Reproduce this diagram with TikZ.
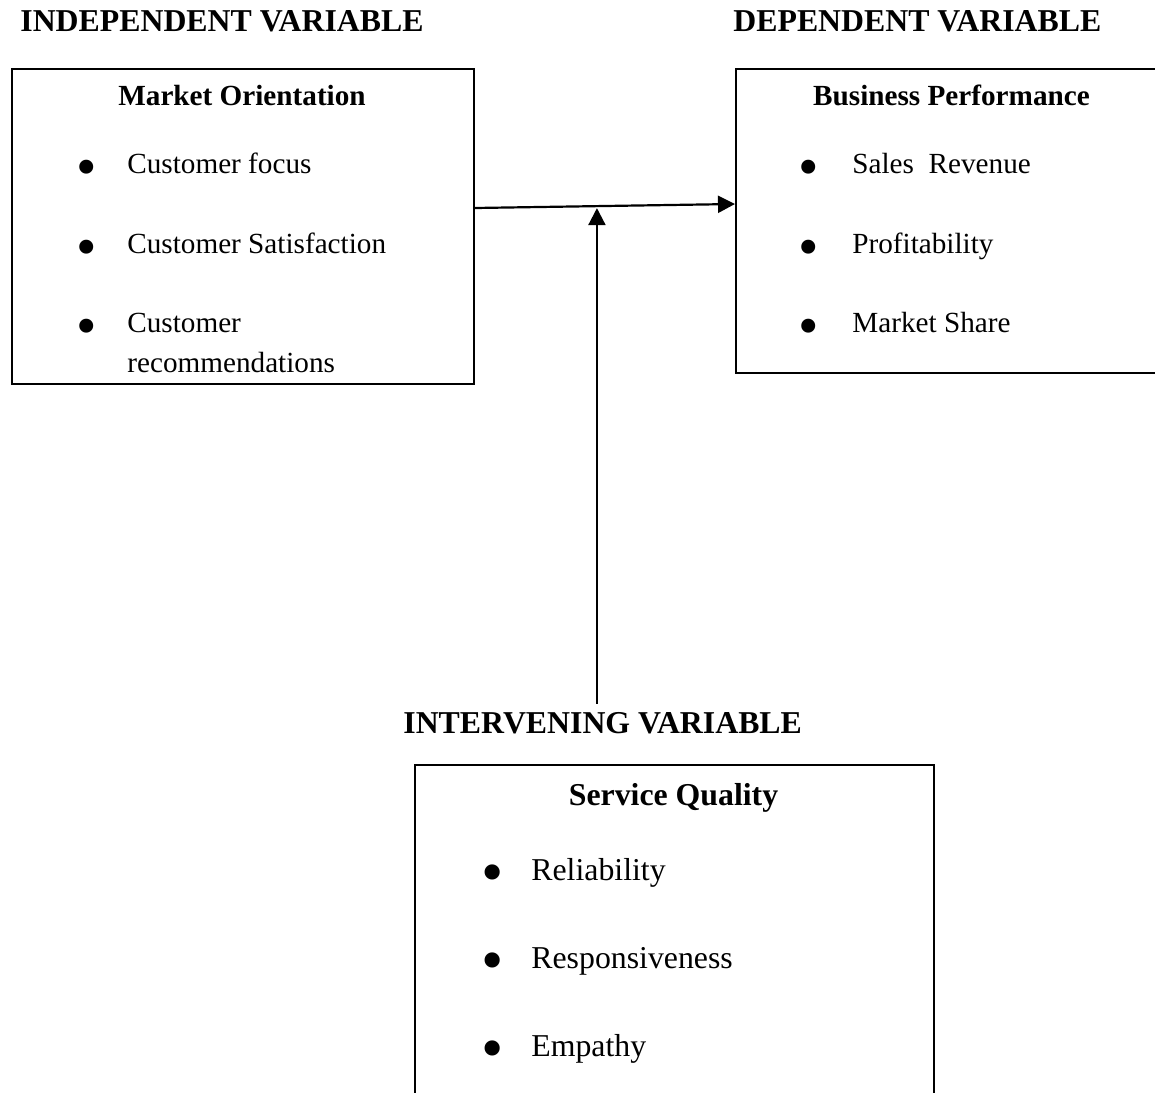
\documentclass[tikz,border=0pt]{standalone}
\usepackage{fontspec}
\setmainfont{Liberation Serif}
\usepackage{graphicx}
\usetikzlibrary{arrows.meta}
% big bullet with a fixed gap before the item text
\newcommand{\bitem}[2][25.5pt]{\makebox[#1][l]{\raisebox{-6.5pt}{\scalebox{2}{\textbullet}}}#2}
\tikzset{
    %Define standard arrow tip
    >={Triangle[length=8.5pt,width=8.5pt]},
    %Define style for boxes
    box/.style={
           rectangle,
           draw=black, line width=1pt,
           anchor=north west,
           inner sep=0pt},
    head/.style={
           font=\fontsize{15.9}{19}\selectfont\bfseries,
           anchor=base west,
           inner sep=0pt},
    title/.style={
           font=\fontsize{14.6}{17}\selectfont\bfseries,
           anchor=base,
           inner sep=0pt},
    itm/.style={
           font=\fontsize{14.6}{17}\selectfont,
           anchor=base west,
           inner sep=0pt},
    bigtitle/.style={
           title,
           font=\fontsize{15.9}{19}\selectfont\bfseries},
    bigitm/.style={
           itm,
           font=\fontsize{15.9}{19}\selectfont},
    % Define arrow style
    arr/.style={
           ->,
           line width=1.1pt}
}
\begin{document}
\begin{tikzpicture}[x=0.5pt,y=-0.5pt]
  \useasboundingbox (0,0) rectangle (1155,1092);
  \clip (0,0) rectangle (1155,1092);

  % headings
  \node[head] (iv-head) at (20,32) {INDEPENDENT VARIABLE};
  \node[head] (dv-head) at (733,32) {DEPENDENT VARIABLE};
  \node[head] (int-head) at (403,733) {INTERVENING VARIABLE};

  % market orientation
  \node[box, minimum width=231.25pt, minimum height=157.5pt] (mo) at (10.5,68) {};
  \node[title] (mo-title) at (242,105) {Market Orientation};
  \node[itm] (mo-focus) at (76,173) {\bitem{Customer focus}};
  \node[itm] (mo-sat) at (76,253) {\bitem{Customer Satisfaction}};
  \node[itm] (mo-rec) at (76,332) {\bitem{Customer}};
  \node[itm] (mo-rec2) at (127,372) {recommendations};

  % business performance
  \node[box, minimum width=216.5pt, minimum height=152pt] (bp) at (735,68) {};
  \node[title] (bp-title) at (951.5,105) {Business Performance};
  \node[itm] (bp-sales) at (798,173) {\bitem[27pt]{Sales\ \ Revenue}};
  \node[itm] (bp-profit) at (798,253) {\bitem[27pt]{Profitability}};
  \node[itm] (bp-share) at (798,332) {\bitem[27pt]{Market Share}};

  % service quality
  \node[box, minimum width=259.5pt, minimum height=175pt] (sq) at (414,764) {};
  \node[bigtitle] (sq-title) at (673.5,805) {Service Quality};
  \node[bigitm] (sq-rel) at (481,880) {\bitem[25pt]{Reliability}};
  \node[bigitm] (sq-resp) at (481,968) {\bitem[25pt]{Responsiveness}};
  \node[bigitm] (sq-emp) at (481,1056) {\bitem[25pt]{Empathy}};

  % connectors
  \draw[arr] ([yshift=9.25pt]mo.east) -- coordinate[pos=0.469] (join) ([yshift=8.5pt]bp.west);
  \draw[arr, shorten <=4pt, shorten >=1pt] (join |- int-head.north) -- (join);
\end{tikzpicture}
\end{document}
